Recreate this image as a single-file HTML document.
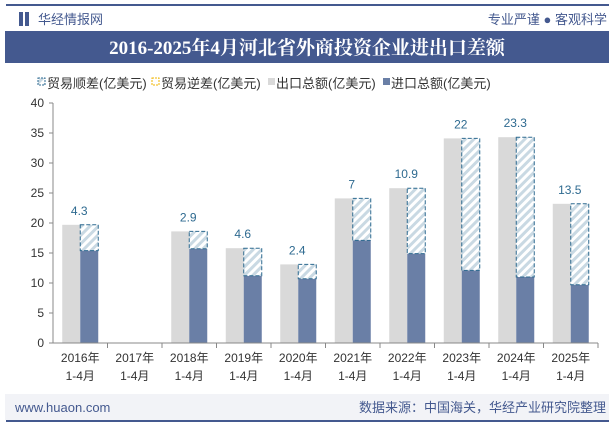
<!DOCTYPE html>
<html><head><meta charset="utf-8"><style>
body{margin:0;width:615px;height:427px;background:#fff;overflow:hidden;font-family:"Liberation Sans","Noto Sans CJK SC",sans-serif}
</style></head><body>
<svg id="c" width="615" height="427" xmlns="http://www.w3.org/2000/svg">
<defs><pattern id="h" width="6" height="6" patternUnits="userSpaceOnUse" patternTransform="rotate(45)"><rect width="6" height="6" fill="#fff"/><rect width="3" height="6" fill="#c9d9e3"/></pattern></defs>
<rect x="6" y="4" width="603" height="2" fill="#44598f"/>
<rect x="19" y="12" width="4" height="14" fill="#44598f"/><rect x="25" y="12" width="4" height="14" fill="#44598f"/>
<text x="38" y="24" font-size="13" fill="#44598f">华经情报网</text>
<text x="607" y="24" font-size="13" fill="#44598f" text-anchor="end">专业严谨 ● 客观科学</text>
<rect x="5" y="31" width="604" height="32" fill="#44598f"/>
<text x="307" y="54" font-size="19" font-weight="bold" fill="#fff" text-anchor="middle" font-family="'Liberation Serif','Noto Serif CJK SC',serif">2016-2025年4月河北省外商投资企业进出口差额</text>
<g font-size="13" fill="#333">
<rect x="38" y="78" width="7" height="7" fill="url(#h)" stroke="#2e6a90" stroke-dasharray="2,1"/><text x="47" y="88">贸易顺差(亿美元)</text>
<rect x="152" y="78" width="7" height="7" fill="#fff" stroke="#f0b400" stroke-dasharray="2,1"/><text x="161" y="88">贸易逆差(亿美元)</text>
<rect x="268" y="78" width="7" height="7" fill="#d9d9d9"/><text x="276" y="88">出口总额(亿美元)</text>
<rect x="383" y="78" width="7" height="7" fill="#6a7fa6"/><text x="391" y="88">进口总额(亿美元)</text>
</g>
<g id="plot"></g>
<rect x="5" y="394" width="604" height="26" fill="#f2f3f7"/>
<text x="15" y="412" font-size="13" fill="#44598f">www.huaon.com</text>
<text x="606" y="412" font-size="13" fill="#44598f" text-anchor="end">数据来源：中国海关，华经产业研究院整理</text>
<rect x="6" y="420" width="603" height="2" fill="#44598f"/>
</svg>
<script>
const categories=["2016年","2017年","2018年","2019年","2020年","2021年","2022年","2023年","2024年","2025年"];
const exportsV=[19.7,null,18.6,15.8,13.1,24.1,25.8,34.1,34.3,23.2];
const importsV=[15.4,null,15.7,11.2,10.7,17.1,14.9,12.1,11.0,9.7];
const surplus=[4.3,null,2.9,4.6,2.4,7,10.9,22,23.3,13.5];
const yTicks=[0,5,10,15,20,25,30,35,40];
const NS="http://www.w3.org/2000/svg";
const g=document.getElementById('plot');
const x0=53,cw=54.5,y0=343,yTop=103,yMax=40;
const y=v=>y0-(v/yMax)*(y0-yTop);
const xc=i=>x0+cw*(i+0.5);
function mk(t,a,txt){const e=document.createElementNS(NS,t);for(const k in a)e.setAttribute(k,a[k]);if(txt!=null)e.textContent=txt;g.appendChild(e);return e;}
let e=mk('line',{x1:x0,y1:yTop,x2:x0,y2:y0,stroke:'#888'});

yTicks.forEach(t=>{const l=mk('line',{x1:x0-4,y1:y(t),x2:x0,y2:y(t),stroke:'#888'});

const tx=mk('text',{x:x0-9,y:y(t)+4,'font-size':12,fill:'#333','text-anchor':'end'},t);
});
categories.forEach((c,i)=>{const cx=xc(i);
if(exportsV[i]!=null){const b=mk('rect',{x:cx-18,y:y(exportsV[i]),width:18,height:y0-y(exportsV[i]),fill:'#d9d9d9'});
}
if(importsV[i]!=null){const b=mk('rect',{x:cx,y:y(importsV[i]),width:18,height:y0-y(importsV[i]),fill:'#6a7fa6'});
}
if(surplus[i]!=null){const top=y(importsV[i]+surplus[i]);
const s=mk('rect',{x:cx,y:top,width:18,height:y(importsV[i])-top,fill:'url(#h)',stroke:'#2e6a90','stroke-dasharray':'4,2'});

const lb=mk('text',{x:cx-1,y:top-10,'font-size':12,fill:'#2e6a90','text-anchor':'middle'},surplus[i]);
}
const t1=mk('text',{x:cx,y:362,'font-size':12,fill:'#333','text-anchor':'middle'},c);

const t2=mk('text',{x:cx,y:380,'font-size':12,fill:'#333','text-anchor':'middle'},'1-4月');

const tk=mk('line',{x1:x0+cw*(i+1),y1:y0,x2:x0+cw*(i+1),y2:y0+5,stroke:'#888'});
});
e=mk('line',{x1:x0,y1:y0,x2:x0+cw*10,y2:y0,stroke:'#888'});

</script>
</body></html>
